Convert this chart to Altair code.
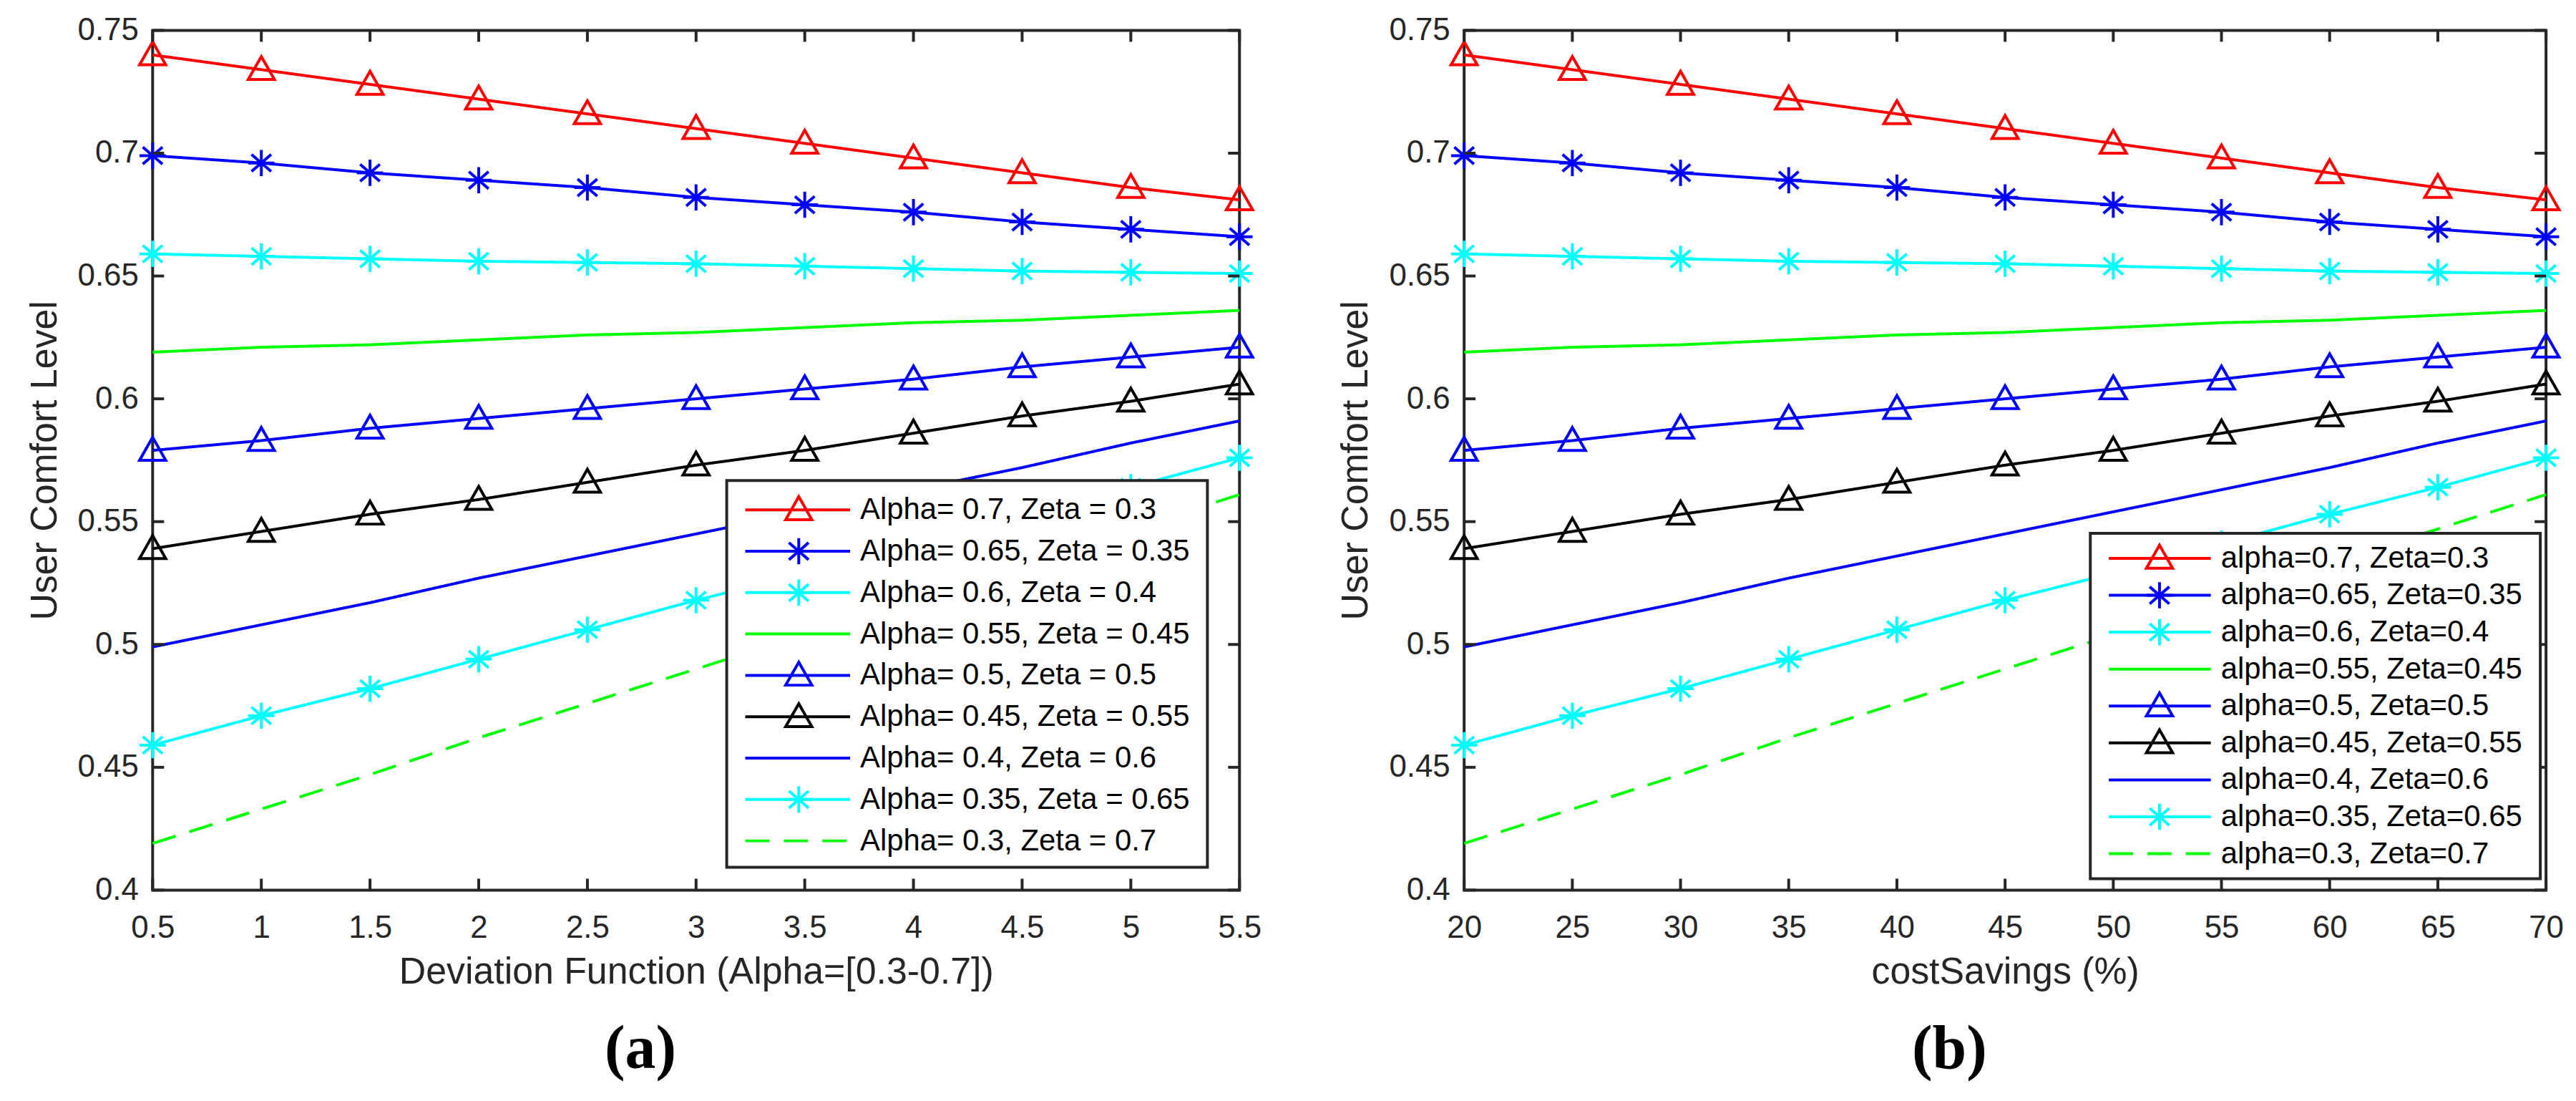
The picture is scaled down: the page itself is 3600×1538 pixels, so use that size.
import altair as alt
import pandas as pd

# ── Data ─────────────────────────────────────────────────────────────────────
deviation = [0.5, 1, 1.5, 2, 2.5, 3, 3.5, 4, 4.5, 5, 5.5]
cost_savings = [20, 25, 30, 35, 40, 45, 50, 55, 60, 65, 70]

labels_a = [
    'Alpha= 0.7, Zeta = 0.3',
    'Alpha= 0.65, Zeta = 0.35',
    'Alpha= 0.6, Zeta = 0.4',
    'Alpha= 0.55, Zeta = 0.45',
    'Alpha= 0.5, Zeta = 0.5',
    'Alpha= 0.45, Zeta = 0.55',
    'Alpha= 0.4, Zeta = 0.6',
    'Alpha= 0.35, Zeta = 0.65',
    'Alpha= 0.3, Zeta = 0.7',
]
labels_b = [
    'alpha=0.7, Zeta=0.3',
    '\u00a0alpha=0.65, Zeta=0.35',
    'alpha=0.6, Zeta=0.4',
    '\u00a0alpha=0.55, Zeta=0.45',
    'alpha=0.5, Zeta=0.5',
    '\u00a0alpha=0.45, Zeta=0.55',
    '\u00a0alpha=0.4, Zeta=0.6',
    'alpha=0.35, Zeta=0.65',
    '\u00a0alpha=0.3, Zeta=0.7',
]

red_tri    = [0.740, 0.734, 0.728, 0.722, 0.716, 0.710, 0.704, 0.698, 0.692, 0.686, 0.681]
blue_star  = [0.699, 0.696, 0.692, 0.689, 0.686, 0.682, 0.679, 0.676, 0.672, 0.669, 0.666]
cyan_star  = [0.659, 0.658, 0.657, 0.656, 0.6555, 0.655, 0.654, 0.653, 0.652, 0.6515, 0.651]
green_line = [0.619, 0.621, 0.622, 0.624, 0.626, 0.627, 0.629, 0.631, 0.632, 0.634, 0.636]
blue_tri   = [0.579, 0.583, 0.588, 0.592, 0.596, 0.600, 0.604, 0.608, 0.613, 0.617, 0.621]
black_tri  = [0.539, 0.546, 0.553, 0.559, 0.566, 0.573, 0.579, 0.586, 0.593, 0.599, 0.606]
blue_line  = [0.499, 0.508, 0.517, 0.527, 0.536, 0.545, 0.554, 0.563, 0.572, 0.582, 0.591]
cyan_star2 = [0.459, 0.471, 0.482, 0.494, 0.506, 0.518, 0.529, 0.541, 0.553, 0.564, 0.576]
green_dash = [0.419, 0.433, 0.447, 0.462, 0.476, 0.490, 0.504, 0.518, 0.533, 0.547, 0.561]

series_values = [red_tri, blue_star, cyan_star, green_line, blue_tri,
                 black_tri, blue_line, cyan_star2, green_dash]
series_keys = ['s%d' % i for i in range(9)]
series_colors = ['#ff0000', '#0000ff', '#00ffff', '#00ff00', '#0000ff',
                 '#000000', '#0000ff', '#00ffff', '#00ff00']
series_markers = ['tri', 'star', 'star', 'none', 'tri', 'tri', 'none', 'star', 'none']
series_dashes = [[1, 0]] * 8 + [[34, 20]]

y_ticks = [0.4, 0.45, 0.5, 0.55, 0.6, 0.65, 0.7, 0.75]

# ── Styles ───────────────────────────────────────────────────────────────────
AXIS = '#262626'
FONT = 'Liberation Sans'
TRI = 'M0,-1L1,0.75L-1,0.75Z'
STAR = 'M0,-1L0,1M-1,0L1,0M-0.75,-0.65L0.75,0.65M-0.75,0.65L0.75,-0.65'
W_A, W_B, H = 1524, 1517, 1205
TICK = 16

marked = [k for k, m in zip(series_keys, series_markers) if m != 'none']
marker_paths = [TRI if m == 'tri' else STAR for m in series_markers if m != 'none']

color_enc = alt.Color('series:N', scale=alt.Scale(domain=series_keys, range=series_colors), legend=None)
dash_enc = alt.StrokeDash('series:N', scale=alt.Scale(domain=series_keys, range=series_dashes), legend=None)
shape_enc = alt.Shape('series:N', scale=alt.Scale(domain=marked, range=marker_paths), legend=None)
y_scale = alt.Scale(domain=[0.4, 0.75], nice=False, zero=False)


def panel(xs, labels, x_title, x_ticks, x_fmt, width, leg, sub):
    rows = []
    for key, vals in zip(series_keys, series_values):
        for x, v in zip(xs, vals):
            rows.append({'series': key, 'x': x, 'value': v})
    df = pd.DataFrame(rows)
    x_scale = alt.Scale(domain=[xs[0], xs[-1]], nice=False, zero=False)

    lines = alt.Chart(df).mark_line(strokeWidth=4).encode(
        x=alt.X('x:Q', scale=x_scale, title=x_title,
                axis=alt.Axis(values=x_ticks, format=x_fmt)),
        y=alt.Y('value:Q', scale=y_scale, title='User Comfort Level',
                axis=alt.Axis(values=y_ticks, format='.2~f')),
        color=color_enc,
        strokeDash=dash_enc,
        detail='series:N',
    )
    points = alt.Chart(df).mark_point(filled=False, strokeWidth=4, size=1350, opacity=1).encode(
        x=alt.X('x:Q', scale=x_scale),
        y=alt.Y('value:Q', scale=y_scale, axis=None),
        color=color_enc,
        shape=shape_enc,
    ).transform_filter(alt.FieldOneOfPredicate(field='series', oneOf=marked))

    # inward MATLAB-style ticks on all four sides
    xt = pd.DataFrame({'t': x_ticks})
    yt = pd.DataFrame({'t': y_ticks})
    tick_x_bot = alt.Chart(xt).mark_rule(color=AXIS, strokeWidth=4).encode(
        x=alt.X('t:Q', scale=x_scale), y=alt.value(H), y2=alt.value(H - TICK))
    tick_x_top = alt.Chart(xt).mark_rule(color=AXIS, strokeWidth=4).encode(
        x=alt.X('t:Q', scale=x_scale), y=alt.value(0), y2=alt.value(TICK))
    tick_y_l = alt.Chart(yt).mark_rule(color=AXIS, strokeWidth=4).encode(
        y=alt.Y('t:Q', scale=y_scale, axis=None), x=alt.value(0), x2=alt.value(TICK))
    tick_y_r = alt.Chart(yt).mark_rule(color=AXIS, strokeWidth=4).encode(
        y=alt.Y('t:Q', scale=y_scale, axis=None), x=alt.value(width), x2=alt.value(width - TICK))

    # legend box drawn inside the axes
    ldf = pd.DataFrame({'series': series_keys, 'row': list(range(9)), 'label': labels})
    row_scale = alt.Scale(type='point', domain=list(range(9)), range=[leg['r0'], leg['r1']], padding=0)
    box = alt.Chart(pd.DataFrame({'b': [0]})).mark_rect(
        fill='white', stroke=AXIS, strokeWidth=4).encode(
        x=alt.value(leg['x0']), x2=alt.value(leg['x1']),
        y=alt.value(leg['y0']), y2=alt.value(leg['y1']))
    leg_lines = alt.Chart(ldf).mark_rule(strokeWidth=4).encode(
        x=alt.value(leg['lx0']), x2=alt.value(leg['lx1']),
        y=alt.Y('row:O', scale=row_scale, axis=None),
        color=color_enc, strokeDash=dash_enc)
    leg_marks = alt.Chart(ldf).mark_point(filled=False, strokeWidth=4, size=1350, opacity=1).encode(
        x=alt.value(leg['mx']),
        y=alt.Y('row:O', scale=row_scale, axis=None),
        color=color_enc, shape=shape_enc,
    ).transform_filter(alt.FieldOneOfPredicate(field='series', oneOf=marked))
    leg_text = alt.Chart(ldf).mark_text(
        align='left', baseline='middle', font=FONT, fontSize=42, color='black').encode(
        x=alt.value(leg['tx']),
        y=alt.Y('row:O', scale=row_scale, axis=None),
        text='label:N')

    return alt.layer(
        lines, points, tick_x_bot, tick_x_top, tick_y_l, tick_y_r,
        box, leg_lines, leg_marks, leg_text
    ).resolve_scale(y='independent').properties(
        width=width, height=H,
        title=alt.TitleParams(sub, orient='bottom', anchor='middle', frame='group',
                              dx=-78, offset=40, font='Liberation Serif',
                              fontWeight='bold', fontSize=86, color='black'),
    )


leg_a = dict(x0=805, x1=1479, y0=631, y1=1173, r0=672, r1=1136,
             lx0=831, lx1=978, mx=906, tx=992)
leg_b = dict(x0=878, x1=1509, y0=705, y1=1189, r0=740, r1=1154,
             lx0=904, lx1=1047, mx=975, tx=1061)

left = panel(deviation, labels_a, 'Deviation Function (Alpha=[0.3-0.7])',
             deviation, '~g', W_A, leg_a, '(a)')
right = panel(cost_savings, labels_b, 'costSavings (%)',
              cost_savings, 'd', W_B, leg_b, '(b)')

chart = alt.hconcat(left, right, spacing=102).properties(
    padding={'left': 26, 'top': 8, 'right': 5, 'bottom': 5}
).configure_view(
    stroke=AXIS, strokeWidth=4
).configure_axis(
    domain=False, ticks=False, grid=False, tickSize=0, labelFlush=False,
    labelFont=FONT, labelFontSize=44, labelColor=AXIS, labelPadding=20,
    titleFont=FONT, titleFontSize=52, titleColor=AXIS, titleFontWeight='normal',
).configure_axisX(
    labelPadding=31, titlePadding=15
).configure_axisY(
    titlePadding=19
)

chart.save('out.html', embed_options={'renderer': 'svg', 'actions': False})
